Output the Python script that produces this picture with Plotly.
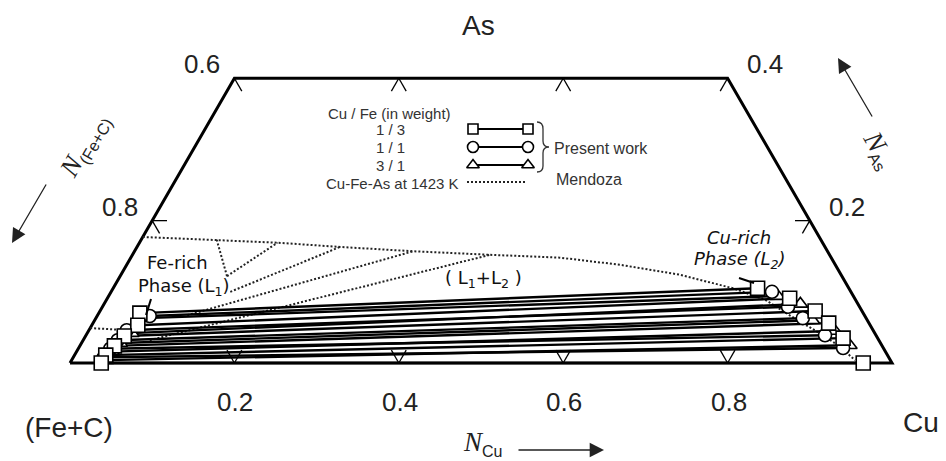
import math
import plotly.graph_objects as go

S3 = math.sqrt(3) / 2
AS_MAX = 0.4

# ---------------- data (mole fractions N_Cu, N_As) ----------------
bottom_ticks = [0.2, 0.4, 0.6, 0.8]          # N_Cu
left_ticks = [0.6, 0.8]                      # N_(Fe+C) on the Cu = 0 edge
right_ticks = [0.4, 0.2]                     # N_As on the Fe+C = 0 edge
top_ticks_cu = [0.2, 0.4]                    # N_Cu along the As = 0.4 edge

# Present work, Cu/Fe = 1/3 (squares)
sq_l_cu = [0.050, 0.056, 0.047, 0.042, 0.038, 0.038]
sq_l_as = [0.070, 0.053, 0.038, 0.024, 0.011, 0.000]
sq_r_cu = [0.784, 0.830, 0.870, 0.895, 0.923, 0.965]
sq_r_as = [0.105, 0.091, 0.073, 0.056, 0.035, 0.000]
# Cu/Fe = 1/1 (circles)
ci_l_cu = [0.064, 0.046, 0.042, 0.039, 0.037]
ci_l_as = [0.066, 0.046, 0.032, 0.020, 0.008]
ci_r_cu = [0.804, 0.834, 0.860, 0.899, 0.930]
ci_r_as = [0.100, 0.079, 0.063, 0.039, 0.021]
# Cu/Fe = 3/1 (triangles)
tr_l_cu = [0.060, 0.054, 0.047, 0.043, 0.042]
tr_l_as = [0.063, 0.042, 0.028, 0.016, 0.004]
tr_r_cu = [0.814, 0.847, 0.873, 0.908, 0.936]
tr_r_as = [0.094, 0.083, 0.060, 0.045, 0.025]

# Mendoza, Cu-Fe-As at 1423 K (dotted)
men_curve_cu = [0.000, 0.096, 0.168, 0.247, 0.339, 0.435, 0.522, 0.600, 0.680, 0.754,
                0.801, 0.842, 0.883, 0.922, 0.953]
men_curve_as = [0.177, 0.173, 0.169, 0.163, 0.157, 0.152, 0.148, 0.138, 0.124, 0.105,
                0.089, 0.067, 0.046, 0.025, 0.004]
men_l1_cu = [0.000, 0.050]
men_l1_as = [0.049, 0.046]
# Mendoza tie lines: lower (L1 side) end -> upper end on the curve
men_tie_lo_cu = [0.130, 0.130, 0.145, 0.109, 0.081]
men_tie_lo_as = [0.122, 0.122, 0.100, 0.067, 0.032]
men_tie_hi_cu = [0.092, 0.168, 0.247, 0.339, 0.435]
men_tie_hi_as = [0.173, 0.169, 0.163, 0.157, 0.152]


def tx(cu, a):
    return cu + a / 2.0


def ty(a):
    return a * S3


def pts(cus, ass):
    return [tx(c, a) for c, a in zip(cus, ass)], [ty(a) for a in ass]


def segs(l_cu, l_as, r_cu, r_as):
    xs, ys = [], []
    for a, b, c, d in zip(l_cu, l_as, r_cu, r_as):
        xs += [tx(a, b), tx(c, d), None]
        ys += [ty(b), ty(d), None]
    return xs, ys


fig = go.Figure()

# ---- frame (trapezoid As <= 0.4) ----
fx, fy = pts([0, 1, 1 - AS_MAX, 0, 0], [0, 0, AS_MAX, AS_MAX, 0])
fig.add_trace(go.Scatter(x=fx, y=fy, mode="lines", line=dict(color="black", width=3),
                         hoverinfo="skip", showlegend=False))

# ---- chevron ticks ----
t = 0.018
tick_x, tick_y = [], []


def add_seg(c0, a0, dc, da):
    tick_x.extend([tx(c0, a0), tx(c0 + dc, a0 + da), None])
    tick_y.extend([ty(a0), ty(a0 + da), None])


for v in bottom_ticks:
    add_seg(v, 0, 0, t)       # constant Cu
    add_seg(v, 0, -t, t)      # constant Fe
for v in top_ticks_cu:
    add_seg(v, AS_MAX, 0, -t)
    add_seg(v, AS_MAX, t, -t)
for v in left_ticks:
    a = 1 - v
    add_seg(0, a, t, -t)      # constant Fe+C
    if a < AS_MAX - 1e-9:
        add_seg(0, a, t, 0)   # constant As
for v in right_ticks:
    c = 1 - v
    add_seg(c, v, 0, -t)      # constant Cu
    if v < AS_MAX - 1e-9:
        add_seg(c, v, -t, 0)  # constant As
fig.add_trace(go.Scatter(x=tick_x, y=tick_y, mode="lines", line=dict(color="black", width=1.3),
                         hoverinfo="skip", showlegend=False))

# ---- Mendoza dotted lines ----
dot = dict(color="#222", width=2, dash="2px,2px")
for cu_, as_ in [(men_curve_cu, men_curve_as), (men_l1_cu, men_l1_as)]:
    x_, y_ = pts(cu_, as_)
    fig.add_trace(go.Scatter(x=x_, y=y_, mode="lines", line=dot, hoverinfo="skip", showlegend=False))
x_, y_ = segs(men_tie_lo_cu, men_tie_lo_as, men_tie_hi_cu, men_tie_hi_as)
fig.add_trace(go.Scatter(x=x_, y=y_, mode="lines", line=dot, hoverinfo="skip", showlegend=False))

# ---- present-work tie lines ----
for l_cu, l_as, r_cu, r_as in [(tr_l_cu, tr_l_as, tr_r_cu, tr_r_as),
                               (ci_l_cu, ci_l_as, ci_r_cu, ci_r_as),
                               (sq_l_cu, sq_l_as, sq_r_cu, sq_r_as)]:
    x_, y_ = segs(l_cu, l_as, r_cu, r_as)
    fig.add_trace(go.Scatter(x=x_, y=y_, mode="lines", line=dict(color="black", width=2.4),
                             hoverinfo="skip", showlegend=False))

mk_line = dict(color="black", width=1.6)
for cus, ass, sym, size in [(tr_l_cu + tr_r_cu, tr_l_as + tr_r_as, "triangle-up", 13),
                            (ci_l_cu + ci_r_cu, ci_l_as + ci_r_as, "circle", 13),
                            (sq_l_cu + sq_r_cu, sq_l_as + sq_r_as, "square", 14)]:
    x_, y_ = pts(cus, ass)
    fig.add_trace(go.Scatter(x=x_, y=y_, mode="markers",
                             marker=dict(symbol=sym, size=size, color="white", line=mk_line),
                             hoverinfo="skip", showlegend=False))

# ---- legend samples (pixel overlay axes) ----
leg_rows = [("square", 129, 10), ("circle", 147, 11), ("triangle-up", 165, 11)]
for sym, yy, sz in leg_rows:
    fig.add_trace(go.Scatter(x=[473, 528], y=[yy, yy], xaxis="x2", yaxis="y2", mode="lines+markers",
                             line=dict(color="black", width=2),
                             marker=dict(symbol=sym, size=sz, color="white", line=mk_line),
                             hoverinfo="skip", showlegend=False))
fig.add_trace(go.Scatter(x=[467, 527], y=[182, 182], xaxis="x2", yaxis="y2", mode="lines",
                         line=dot, hoverinfo="skip", showlegend=False))
# pointer lines for phase labels
fig.add_trace(go.Scatter(x=[151, 146, None, 739, 754], y=[299, 315, None, 278, 283],
                         xaxis="x2", yaxis="y2", mode="lines", line=dict(color="black", width=2),
                         hoverinfo="skip", showlegend=False))

# brace
fig.add_shape(type="path", xref="x2", yref="y2",
              path="M 537 122 Q 543 122 543 129 L 543 141 Q 543 147 549 147 Q 543 147 543 153 "
                   "L 543 166 Q 543 172 537 172",
              line=dict(color="#333", width=1.3))

ann = []
NUM = dict(family="Liberation Sans, Arial", size=26, color="#222")
for v in bottom_ticks:
    ann.append(dict(x=tx(v, 0), y=ty(0), xref="x", yref="y", text=f"{v:.1f}", showarrow=False,
                    font=NUM, yshift=-39, xshift=1))
for v in left_ticks:
    a = 1 - v
    ann.append(dict(x=tx(0, a), y=ty(a), xref="x", yref="y", text=f"{v:.1f}", showarrow=False,
                    font=NUM, xshift=-32, yshift=14))
for v in right_ticks:
    ann.append(dict(x=tx(1 - v, v), y=ty(v), xref="x", yref="y", text=f"{v:.1f}", showarrow=False,
                    font=NUM, xshift=37, yshift=14))

BIG = dict(family="Liberation Sans, Arial", size=28, color="#222")
ann += [
    dict(x=478, y=25, text="As", font=BIG),
    dict(x=69, y=427, text="(Fe+C)", font=BIG),
    dict(x=921, y=422, text="Cu", font=BIG),
]

LEG = dict(family="Liberation Sans, Arial", size=15, color="#333")
ann += [
    dict(x=389, y=113, text="Cu / Fe (in weight)", font=LEG),
    dict(x=390, y=129, text="1 / 3", font=LEG),
    dict(x=390, y=147, text="1 / 1", font=LEG),
    dict(x=390, y=165, text="3 / 1", font=LEG),
    dict(x=601, y=148, text="Present work", font=dict(LEG, size=16)),
    dict(x=392, y=183, text="Cu-Fe-As at 1423 K", font=LEG),
    dict(x=589, y=179, text="Mendoza", font=dict(LEG, size=16)),
]

PH = dict(family="DejaVu Sans", size=18, color="#111")
ann += [
    dict(x=177, y=262, text="Fe-rich", font=PH),
    dict(x=184, y=287, text="Phase (L<sub>1</sub>)", font=PH),
    dict(x=739, y=237, text="<i>Cu-rich</i>", font=PH),
    dict(x=740, y=260, text="<i>Phase (L<sub>2</sub>)</i>", font=PH),
    dict(x=483, y=279, text="( L<sub>1</sub>+L<sub>2</sub> )", font=PH),
]

NF = dict(family="Liberation Serif, Times New Roman", size=27, color="#222")
SUB = "<span style='font-family:Liberation Sans, Arial;font-size:16px'>"
ann += [
    dict(x=482, y=443, text="<i>N</i><sub>" + SUB + "Cu</span></sub>", font=NF),
    dict(x=84, y=146, text="<i>N</i><sub>" + SUB + "(Fe+C)</span></sub>", font=NF, textangle=-60),
    dict(x=879, y=150, text="<i>N</i><sub>" + SUB + "As</span></sub>", font=NF, textangle=60),
]
for a in ann:
    a.setdefault("xref", "x2")
    a.setdefault("yref", "y2")
    a.setdefault("showarrow", False)

# axis-title arrows
for (hx, hy, tx0, ty0) in [(12, 243, 47, 183), (838, 58, 873, 118), (604, 450, 517, 450)]:
    ann.append(dict(x=hx, y=hy, ax=tx0, ay=ty0, xref="x2", yref="y2", axref="x2", ayref="y2",
                    text="", showarrow=True, arrowhead=2, arrowsize=2.2, arrowwidth=1.3,
                    arrowcolor="#222"))

x0 = -70 / 822
x1 = x0 + 946 / 822
y0 = -98 / 822
y1 = 363 / 822
fig.update_layout(
    width=946, height=461,
    margin=dict(l=0, r=0, t=0, b=0),
    paper_bgcolor="white", plot_bgcolor="white",
    xaxis=dict(range=[x0, x1], visible=False, fixedrange=True),
    yaxis=dict(range=[y0, y1], visible=False, fixedrange=True),
    xaxis2=dict(range=[0, 946], visible=False, overlaying="x", anchor="y2", fixedrange=True),
    yaxis2=dict(range=[461, 0], visible=False, overlaying="y", anchor="x2", fixedrange=True),
    annotations=ann,
    showlegend=False,
)
fig.write_html("out.html", config={"displayModeBar": False},
               post_script="document.body.style.margin='0px';document.body.style.overflow='hidden';")
